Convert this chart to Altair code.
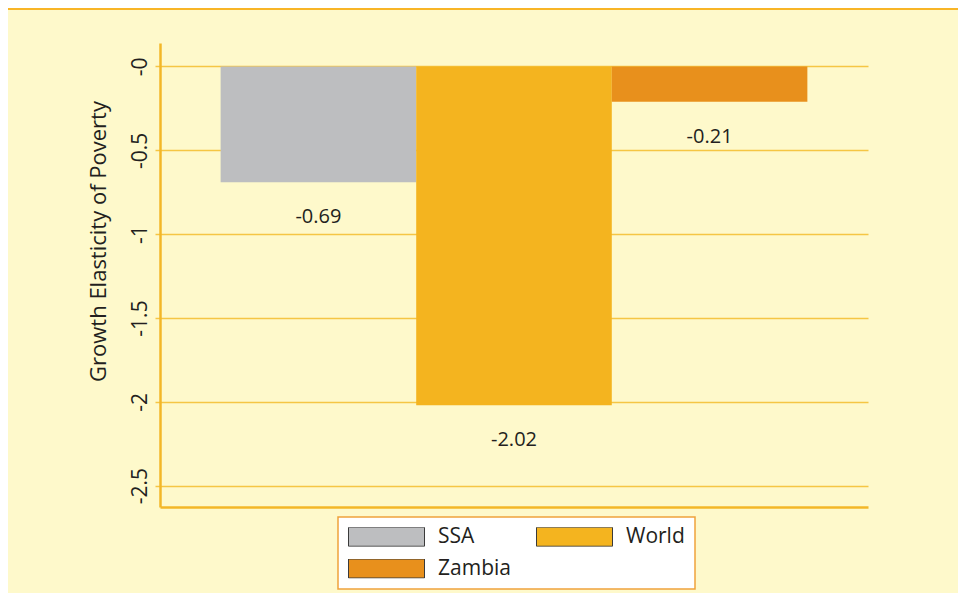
import altair as alt
import pandas as pd

regions = ["SSA", "World", "Zambia"]
values = [-0.69, -2.02, -0.21]
labels = ["-0.69", "-2.02", "-0.21"]
colors = ["#BDBEC0", "#F4B41F", "#E8901C"]
legend_order = ["SSA", "Zambia", "World"]
tick_values = [0, -0.5, -1, -1.5, -2, -2.5]

df = pd.DataFrame({"Region": regions, "Elasticity": values, "Label": labels})

FONT = "Open Sans"
TXT = "#231F20"

x = alt.X("Region:N", sort=regions,
          scale=alt.Scale(paddingInner=0, paddingOuter=0.31),
          axis=alt.Axis(labels=False, ticks=False, title=None, grid=False,
                        domain=True, domainColor="#F3B728", domainWidth=2.5))
y = alt.Y("Elasticity:Q",
          scale=alt.Scale(domain=[-2.627, 0.14], nice=False, zero=False),
          axis=alt.Axis(values=tick_values,
                        labelExpr="datum.value == 0 ? '-0' : '' + datum.value",
                        labelAngle=-90, labelAlign="center", labelBaseline="bottom",
                        labelFont=FONT, labelFontSize=21, labelColor=TXT, labelPadding=5,
                        tickSize=5, tickColor="#F5C644", tickWidth=1.5,
                        grid=True, gridColor="#F5C644", gridWidth=1.5,
                        domainColor="#F3B728", domainWidth=2.5,
                        title="Growth Elasticity of Poverty", titleFont=FONT,
                        titleFontSize=22, titleFontWeight="normal", titleColor=TXT,
                        titleAngle=-90, titleX=-62, titleY=198,
                        titleAlign="center", titleBaseline="middle"))

legend = alt.Legend(orient="none", legendX=178, legendY=474, columns=2, title=None,
                    values=legend_order,
                    fillColor="white", strokeColor="#EFA23C", padding=10,
                    symbolType="M-1,-0.25L1,-0.25L1,0.25L-1,0.25Z", symbolSize=5776,
                    symbolStrokeColor="#3A3A3A", symbolStrokeWidth=1, symbolOpacity=1,
                    clipHeight=19, labelFont=FONT, labelFontSize=21, labelColor=TXT,
                    labelOffset=13, columnPadding=25, rowPadding=10)

bars = alt.Chart(df).mark_bar().encode(
    x=x, y=y, y2=alt.datum(0),
    color=alt.Color("Region:N", scale=alt.Scale(domain=regions, range=colors), legend=legend),
)

text = alt.Chart(df).mark_text(dy=35, font=FONT, fontSize=20, color=TXT,
                               baseline="middle").encode(
    x=alt.X("Region:N", sort=regions), y="Elasticity:Q", text="Label:N")

top_line = alt.Chart(df).mark_rule(color="#F8B526", strokeWidth=2).encode(
    x=alt.value(-152), x2=alt.value(798), y=alt.value(-34))

chart = alt.layer(bars, text, top_line).properties(
    width=708, height=464,
    padding={"left": 152, "top": 35, "right": 90, "bottom": 86},
    autosize=alt.AutoSizeParams(type="none"),
    background="#FEF9CB",
).configure_view(stroke=None).configure_legend(strokeWidth=1.5)

chart.save("out.html", embed_options={"renderer": "svg", "actions": False})
